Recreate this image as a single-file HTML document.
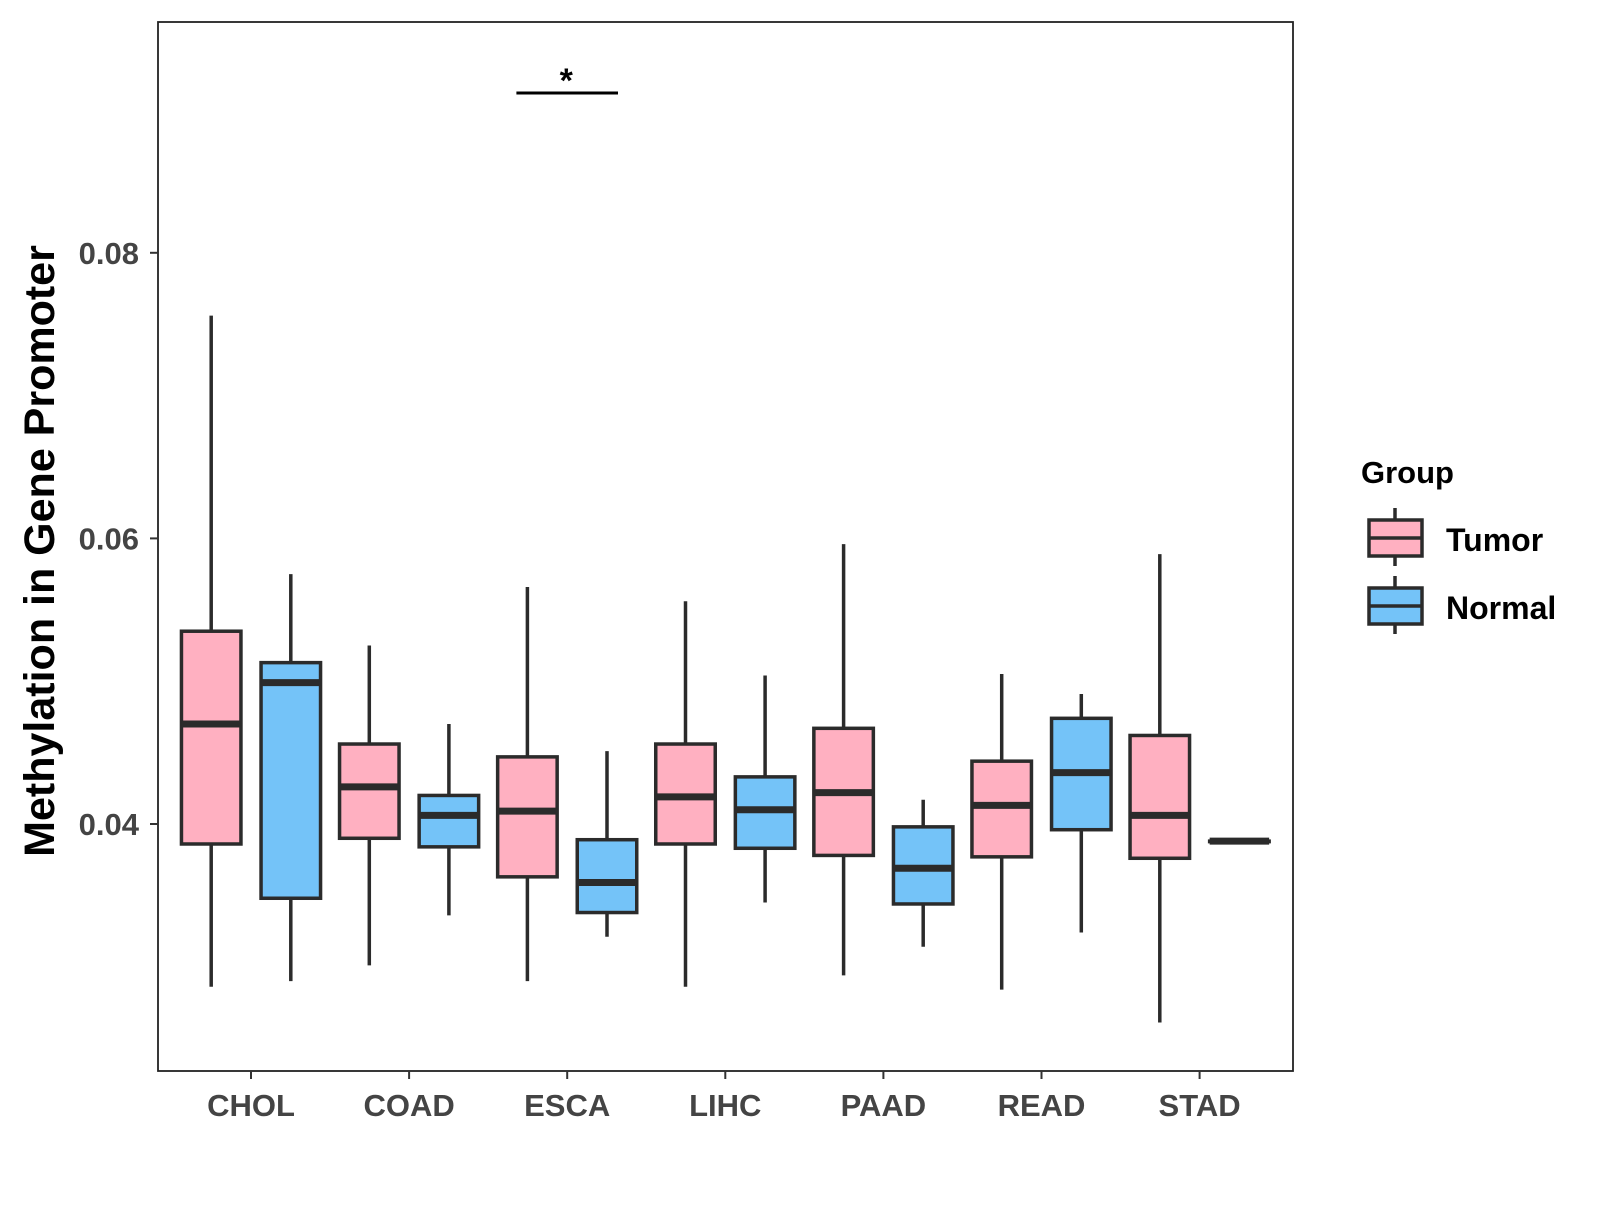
<!DOCTYPE html>
<html><head><meta charset="utf-8"><style>
html,body{margin:0;padding:0;background:#fff}
svg text{font-family:"Liberation Sans",Arial,sans-serif;font-weight:bold}
</style></head><body>
<svg width="1600" height="1200" viewBox="0 0 1600 1200">
<rect x="0" y="0" width="1600" height="1200" fill="#fff"/>
<g id="plot"></g>
<text x="40" y="551" font-size="43" fill="#000" text-anchor="middle" transform="rotate(-90 40 551)" dominant-baseline="central">Methylation in Gene Promoter</text>
<g>
<text x="1361" y="483" font-size="31" fill="#000">Group</text>
<g>
<line x1="1395" y1="508" x2="1395" y2="566" stroke="#2b2b2b" stroke-width="3.5"/>
<rect x="1369" y="520" width="53" height="36" fill="#FFB0C1" stroke="#2b2b2b" stroke-width="3.5"/>
<line x1="1369" y1="538" x2="1422" y2="538" stroke="#2b2b2b" stroke-width="3.5"/>
<text x="1446" y="551" font-size="32" fill="#000">Tumor</text>
</g>
<g>
<line x1="1395" y1="576" x2="1395" y2="634" stroke="#2b2b2b" stroke-width="3.5"/>
<rect x="1369" y="588" width="53" height="36" fill="#74C3F8" stroke="#2b2b2b" stroke-width="3.5"/>
<line x1="1369" y1="606" x2="1422" y2="606" stroke="#2b2b2b" stroke-width="3.5"/>
<text x="1446" y="619" font-size="32" fill="#000">Normal</text>
</g>
</g>
</svg>
<script>
const categories = ["CHOL","COAD","ESCA","LIHC","PAAD","READ","STAD"];
// [low whisker, q1, median, q3, high whisker]
const tumorStats = [
 [0.0286,0.0386,0.0470,0.0535,0.0756],
 [0.0301,0.0390,0.0426,0.0456,0.0525],
 [0.0290,0.0363,0.0409,0.0447,0.0566],
 [0.0286,0.0386,0.0419,0.0456,0.0556],
 [0.0294,0.0378,0.0422,0.0467,0.0596],
 [0.0284,0.0377,0.0413,0.0444,0.0505],
 [0.0261,0.0376,0.0406,0.0462,0.0589]
];
const normalStats = [
 [0.0290,0.0348,0.0499,0.0513,0.0575],
 [0.0336,0.0384,0.0406,0.0420,0.0470],
 [0.0321,0.0338,0.0359,0.0389,0.0451],
 [0.0345,0.0383,0.0410,0.0433,0.0504],
 [0.0314,0.0344,0.0369,0.0398,0.0417],
 [0.0324,0.0396,0.0436,0.0474,0.0491],
 [0.0388,0.0388,0.0388,0.0388,0.0388]
];
const yTicks = [0.04,0.06,0.08];
const yTickLabels = ["0.04","0.06","0.08"];

const NS="http://www.w3.org/2000/svg";
const PL=158, PR=1293, PT=22, PB=1071;
function y(v){ return 824 - (v-0.04)/0.02*285.6; }
function x(i){ return 251 + i*158.1; }
const g=document.getElementById('plot');
function mk(tag, attrs, parent){
  const e=document.createElementNS(NS,tag);
  for(const k in attrs) e.setAttribute(k,attrs[k]);
  (parent||g).appendChild(e); return e;
}
const panel=mk('rect',{x:PL,y:PT,width:PR-PL,height:PB-PT,fill:'none',stroke:'#222','stroke-width':1.8});


yTicks.forEach((t,i)=>{
  mk('line',{x1:PL-8,x2:PL,y1:y(t),y2:y(t),stroke:'#333','stroke-width':2});
  const tx=mk('text',{x:PL-19,y:y(t)+11,'font-size':31,fill:'#444','text-anchor':'end'});
  tx.textContent=yTickLabels[i];
  
  
});
categories.forEach((c,i)=>{
  mk('line',{x1:x(i),x2:x(i),y1:PB,y2:PB+8,stroke:'#333','stroke-width':2});
  const tx=mk('text',{x:x(i),y:1116,'font-size':31,fill:'#444','text-anchor':'middle'});
  tx.textContent=c;
  
  
});
function box(cx, s, fill, name){
  const bg=mk('g',{});
  
  
  const w=59.5;
  mk('line',{x1:cx,x2:cx,y1:y(s[0]),y2:y(s[4]),stroke:'#2b2b2b','stroke-width':3.5},bg);
  const h=Math.max(y(s[1])-y(s[3]),0.5);
  mk('rect',{x:cx-w/2,y:y(s[3]),width:w,height:h,fill:fill,stroke:'#2b2b2b','stroke-width':3.5},bg);
  mk('line',{x1:cx-w/2,x2:cx+w/2,y1:y(s[2]),y2:y(s[2]),stroke:'#2b2b2b','stroke-width':7},bg);
}
categories.forEach((c,i)=>{
  box(x(i)-39.8, tumorStats[i], '#FFB0C1', 'box-tumor-'+c.toLowerCase());
  box(x(i)+39.8, normalStats[i], '#74C3F8', 'box-normal-'+c.toLowerCase());
});
const sig=mk('g',{});


mk('line',{x1:x(2)-39.8-11,x2:x(2)+39.8+11,y1:93,y2:93,stroke:'#000','stroke-width':3},sig);
const st=mk('text',{x:x(2)-1,y:92,'font-size':34,fill:'#000','text-anchor':'middle'},sig);
st.textContent='*';
</script>
</body></html>
